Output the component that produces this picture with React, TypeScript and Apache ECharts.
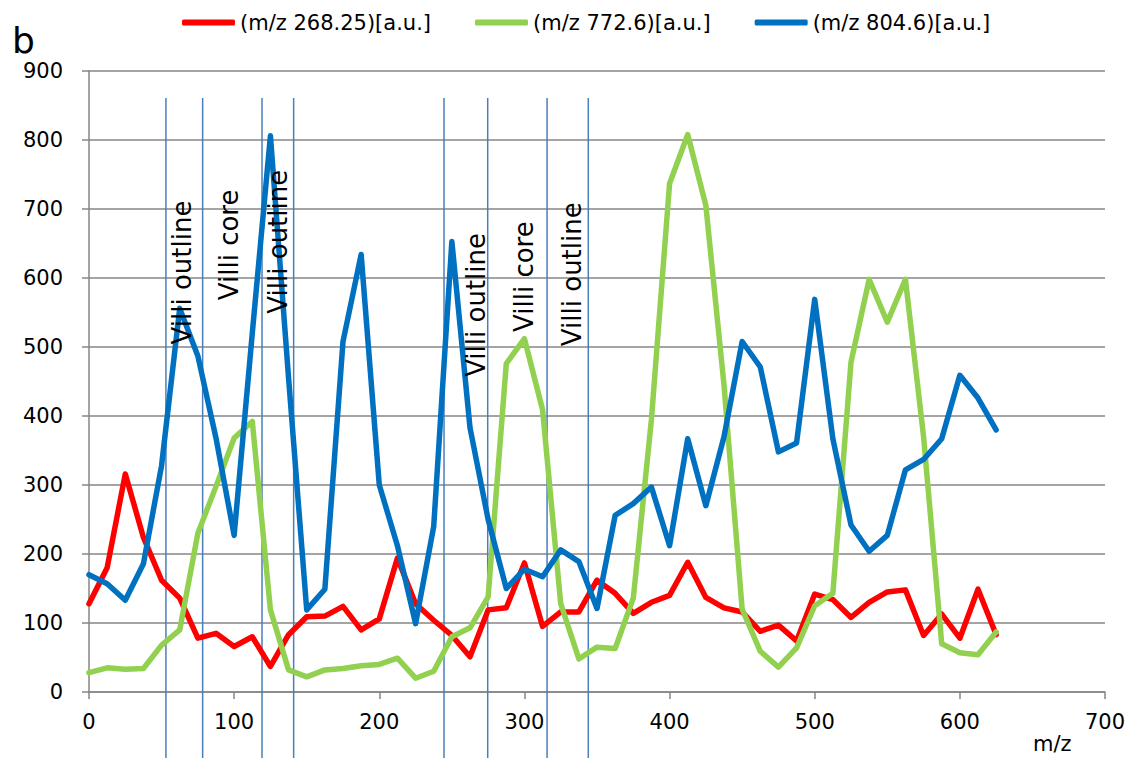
import React, { useEffect, useRef } from "react";
import * as echarts from "echarts";

// m/z positions of the profile samples
const mzPositions = [
  0, 12.5, 25, 37.5, 50, 62.5, 75, 87.5, 100, 112.5, 125, 137.5, 150, 162.5, 175, 187.5,
  200, 212.5, 225, 237.5, 250, 262.5, 275, 287.5, 300, 312.5, 325, 337.5, 350, 362.5, 375,
  387.5, 400, 412.5, 425, 437.5, 450, 462.5, 475, 487.5, 500, 512.5, 525, 537.5, 550, 562.5,
  575, 587.5, 600, 612.5, 625,
];

const seriesNames = ["(m/z 268.25)[a.u.]", "(m/z 772.6)[a.u.]", "(m/z 804.6)[a.u.]"];
const seriesColors = ["#FF0000", "#92D050", "#0070C0"];

const red268 = [
  128, 180, 316, 224, 162, 136, 78, 85, 66, 80, 37, 83, 109, 110, 124, 90, 106, 194, 128, 104,
  82, 51, 119, 122, 187, 95, 116, 116, 162, 143, 114, 130, 140, 188, 137, 122, 116, 88, 97, 74,
  142, 134, 108, 130, 145, 148, 82, 113, 78, 149, 83,
];

const green772 = [
  28, 35, 33, 34, 68, 90, 230, 298, 368, 392, 119, 32, 22, 32, 34, 38, 40, 49, 20, 30, 80, 93,
  138, 476, 512, 409, 128, 48, 65, 63, 136, 395, 737, 808, 705, 445, 120, 59, 36, 64, 125, 143,
  478, 598, 536, 598, 370, 70, 57, 54, 87,
];

const blue804 = [
  170, 157, 133, 186, 328, 556, 487, 368, 227, 520, 806, 455, 119, 149, 508, 634, 300, 212, 99,
  240, 653, 383, 250, 150, 178, 167, 206, 189, 121, 256, 273, 297, 212, 367, 270, 370, 508, 471,
  348, 361, 569, 367, 242, 204, 227, 322, 337, 367, 459, 426, 380,
];

// region boundaries (m/z) drawn as thin vertical lines, with top / bottom extents
const boundaryMz = [53, 78.3, 119.2, 141, 244.6, 274.7, 315.6, 344];
const boundaryTop = 861;
const boundaryBottom = -96;

// region labels: text, anchor m/z, anchor intensity
const regionTexts = ["Villi outline", "Villi core", "Villi outline", "Villi outline", "Villi core", "Villi outline"];
const regionMz = [64.2, 96.6, 129.9, 266.5, 299.6, 332.9];
const regionY = [608, 648, 652.6, 561, 602, 605.5];

const xTicks = { min: 0, max: 700, interval: 100 };
const yTicks = { min: 0, max: 900, interval: 100 };

const FONT = "DejaVu Sans";

export default function App() {
  const ref = useRef<HTMLDivElement>(null);

  useEffect(() => {
    if (!ref.current) return;
    const chart = echarts.init(ref.current, undefined, { renderer: "svg" });

    const values = [red268, green772, blue804];
    const lineSeries = values.map((vals, k) => ({
      name: seriesNames[k],
      type: "line",
      data: mzPositions.map((x, i) => [x, vals[i]]),
      symbol: "none",
      showSymbol: false,
      color: seriesColors[k],
      lineStyle: { width: 5.5, color: seriesColors[k], join: "round", cap: "round" },
      z: 3 + k,
    }));

    const boundarySeries = {
      type: "custom",
      name: "boundaries",
      clip: false,
      silent: true,
      z: 2,
      data: boundaryMz.map((x) => [x, boundaryTop, boundaryBottom]),
      encode: { x: 0, y: [1, 2] },
      renderItem: (params: any, api: any) => {
        const x = api.value(0);
        const p1 = api.coord([x, api.value(1)]);
        const p2 = api.coord([x, api.value(2)]);
        return {
          type: "line",
          shape: { x1: p1[0], y1: p1[1], x2: p2[0], y2: p2[1] },
          style: { stroke: "#4A7EBB", lineWidth: 1.5 },
        };
      },
    };

    const labelSeries = {
      type: "custom",
      name: "regions",
      clip: false,
      silent: true,
      z: 10,
      data: regionMz.map((x, i) => [x, regionY[i]]),
      encode: { x: 0, y: 1 },
      renderItem: (params: any, api: any) => {
        const p = api.coord([api.value(0), api.value(1)]);
        return {
          type: "text",
          x: p[0],
          y: p[1],
          rotation: Math.PI / 2,
          style: {
            text: regionTexts[params.dataIndex],
            x: 0,
            y: 0,
            align: "center",
            verticalAlign: "middle",
            fill: "#000",
            font: `26px "${FONT}"`,
          },
        };
      },
    };

    chart.setOption({
      animation: false,
      backgroundColor: "#fff",
      textStyle: { fontFamily: FONT },
      grid: {
        left: 89,
        right: 31,
        top: 71,
        bottom: 66,
        containLabel: false,
        outerBoundsMode: "none",
      },
      legend: {
        data: seriesNames.map((name, k) => ({ name, itemStyle: { color: seriesColors[k] } })),
        icon: "roundRect",
        left: 177,
        top: 7,
        itemWidth: 53,
        itemHeight: 6,
        itemGap: 44,
        textStyle: { fontSize: 21, color: "#000", fontFamily: FONT },
      },
      xAxis: {
        type: "value",
        min: xTicks.min,
        max: xTicks.max,
        interval: xTicks.interval,
        axisLine: { show: true, lineStyle: { color: "#868686", width: 1.5 } },
        axisTick: { show: true, inside: false, length: 7, lineStyle: { color: "#868686", width: 1.5 } },
        axisLabel: { fontSize: 21, color: "#000", margin: 19, fontFamily: FONT },
        splitLine: { show: false },
      },
      yAxis: {
        type: "value",
        min: yTicks.min,
        max: yTicks.max,
        interval: yTicks.interval,
        axisLine: { show: true, lineStyle: { color: "#868686", width: 1.5 } },
        axisTick: { show: true, inside: false, length: 7, lineStyle: { color: "#868686", width: 1.5 } },
        axisLabel: { fontSize: 21, color: "#000", margin: 26, fontFamily: FONT },
        splitLine: { show: true, lineStyle: { color: "#868686", width: 1.5 } },
      },
      graphic: [
        {
          type: "text",
          left: 12,
          top: 22,
          style: { text: "b", font: `36px "${FONT}"`, fill: "#000" },
        },
        {
          type: "text",
          left: 1033,
          top: 733,
          style: { text: "m/z", font: `21px "${FONT}"`, fill: "#000" },
        },
      ],
      series: [boundarySeries, ...lineSeries, labelSeries],
    });

    return () => chart.dispose();
  }, []);

  return (
    <div
      ref={ref}
      style={{ position: "absolute", left: 0, top: 0, width: 1136, height: 758 }}
    />
  );
}
